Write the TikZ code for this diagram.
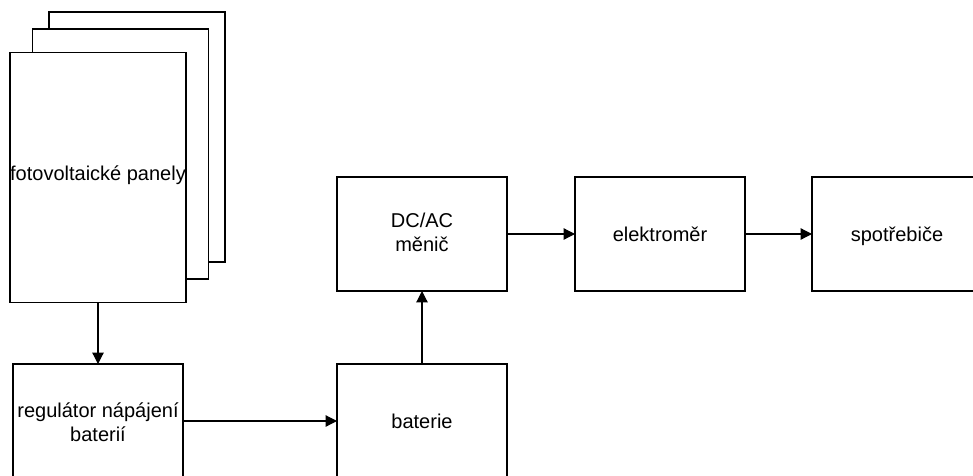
\documentclass[tikz,border=0pt]{standalone}
\usepackage{fontspec}
\setmainfont{Liberation Sans}
\usetikzlibrary{arrows.meta}
\begin{document}
\begin{tikzpicture}[x=0.75pt,y=-0.75pt,
  box/.style={draw=black, line width=0.9pt, fill=white, inner sep=0pt, outer sep=0pt,
    align=center, font=\fontsize{15}{18}\selectfont, minimum width=127.5pt, minimum height=85.5pt},
  one/.style={text height=13pt, text depth=1.4pt},
  two/.style={text height=#1, text depth=1.4pt},
  panel/.style={box, minimum width=132pt, minimum height=187.5pt},
  arr/.style={-{Triangle[length=8.5pt,width=8.5pt]}, line width=0.9pt}]
\useasboundingbox (0,0) rectangle (973,475);
\node[panel] (panel3) at (137,137) {};
\node[panel] (panel2) at (120.5,154) {};
\node[panel, text height=8pt, text depth=2.4pt] (panel1) at (98,177.2) {\makebox[0pt]{fotovoltaické panely}};
\node[box, two=31.4pt] (reg) at (98,421) {regulátor nápájení\\baterií};
\node[box, one] (bat) at (422,421) {baterie};
\node[box, two=28pt] (dcac) at (422,234) {DC/AC\\měnič};
\node[box, one] (elek) at (660,234) {elektroměr};
\node[box, one] (spot) at (897,234) {spotřebiče};
\draw[arr] (panel1.south) -- (reg.north);
\draw[arr] (reg.east) -- (bat.west);
\draw[arr] (bat.north) -- (dcac.south);
\draw[arr] (dcac.east) -- (elek.west);
\draw[arr] (elek.east) -- (spot.west);
\end{tikzpicture}
\end{document}
